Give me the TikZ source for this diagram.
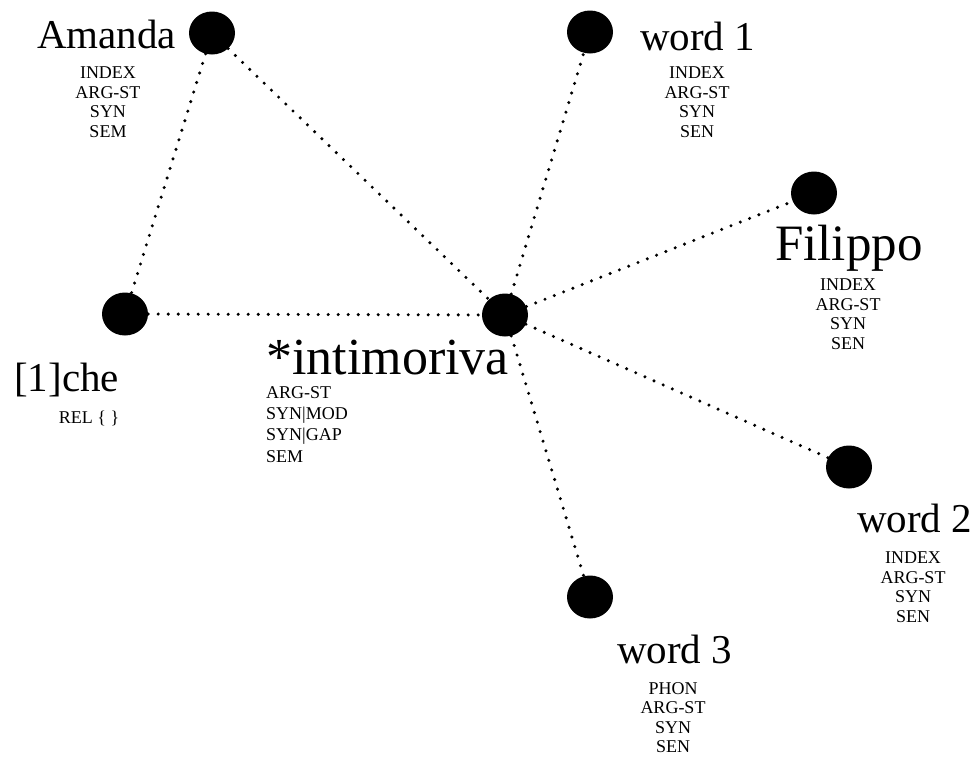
\documentclass[tikz,border=0pt]{standalone}
\usepackage{fontspec}
\setmainfont{Liberation Serif}
\usetikzlibrary{shapes.geometric}
\begin{document}
\begin{tikzpicture}[x=1pt,y=-1pt,
  dot/.style={ellipse,fill=black,draw=none,minimum width=46pt,minimum height=43pt,inner sep=0pt},
  link/.style={line width=3.4pt,line cap=round,dash pattern=on 0pt off 10pt},
  word/.style={anchor=base west,inner sep=0pt,font=\fontsize{41}{41}\selectfont},
  bigword/.style={anchor=base west,inner sep=0pt,font=\fontsize{51}{51}\selectfont},
  feats/.style={anchor=north,inner sep=0pt,align=center,font=\fontsize{18}{19.5}\selectfont},
  featsl/.style={anchor=north west,inner sep=0pt,align=left,font=\fontsize{18}{21.3}\selectfont}]
\useasboundingbox[fill=white] (0,0) rectangle (978,758);

% lexical nodes
\node[dot] (amanda) at (212,33) {};
\node[dot] (w1)     at (590,32) {};
\node[dot] (filippo) at (814,193) {};
\node[dot] (che)    at (125,314) {};
\node[dot] (intim)  at (505,315) {};
\node[dot] (w2)     at (849,467) {};
\node[dot] (w3)     at (590,597) {};

% dotted links
\draw[link] (amanda) -- (che);
\draw[link] (amanda) -- (intim);
\draw[link] (che) -- (intim);
\draw[link] (intim) -- (w1);
\draw[link] (intim) -- (filippo);
\draw[link] (intim) -- (w2);
\draw[link] (intim) -- (w3);

% word labels
\node[word] (amandaL) at (37,48) {Amanda};
\node[word] (w1L) at (640,50) {word 1};
\node[bigword] (filippoL) at (775,260) {Filippo};
\node[word] (cheL) at (14,391) {[1]che};
\node[bigword,font=\fontsize{52}{52}\selectfont] (intimL) at (266,374) {*intimoriva};
\node[word] (w2L) at (857,532) {word 2};
\node[word] (w3L) at (617,663) {word 3};

% feature lists
\node[feats] (amandaF) at (108,67) {INDEX\\ARG-ST\\SYN\\SEM};
\node[feats] (w1F) at (697,67) {INDEX\\ARG-ST\\SYN\\SEN};
\node[feats] (filippoF) at (848,279) {INDEX\\ARG-ST\\SYN\\SEN};
\node[feats] (cheF) at (89,411) {REL \{ \}};
\node[featsl] (intimF) at (266,386) {ARG-ST\\SYN|MOD\\SYN|GAP\\SEM};
\node[feats] (w2F) at (913,552) {INDEX\\ARG-ST\\SYN\\SEN};
\node[feats] (w3F) at (673,682) {PHON\\ARG-ST\\SYN\\SEN};
\end{tikzpicture}
\end{document}
